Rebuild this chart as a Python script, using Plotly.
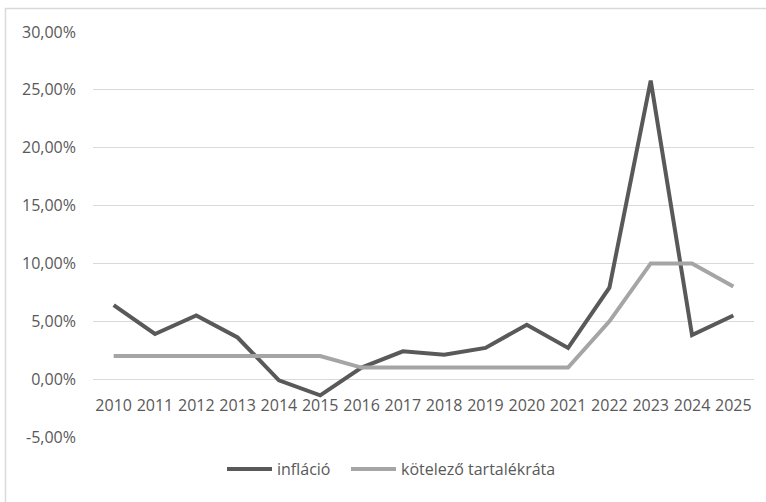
import plotly.graph_objects as go

# Éves adatok (%)
years = [str(y) for y in range(2010, 2026)]
inflacio = [6.4, 3.9, 5.5, 3.6, -0.1, -1.4, 1.0, 2.4, 2.1, 2.7, 4.7, 2.7, 7.9, 25.8, 3.8, 5.5]
tartalekrata = [2.0, 2.0, 2.0, 2.0, 2.0, 2.0, 1.0, 1.0, 1.0, 1.0, 1.0, 1.0, 5.0, 10.0, 10.0, 8.0]

y_ticks = [-5, 0, 5, 10, 15, 20, 25, 30]
y_tick_labels = [f"{v:.2f}%".replace(".", ",") for v in y_ticks]

TEXT = "#595959"
FONT = "Open Sans"
PLOT_W = 661

fig = go.Figure()
fig.add_trace(go.Scatter(
    x=years, y=inflacio, name="infláció", mode="lines",
    line=dict(color="#595959", width=4), legend="legend",
))
fig.add_trace(go.Scatter(
    x=years, y=tartalekrata, name="kötelező tartalékráta", mode="lines",
    line=dict(color="#A5A5A5", width=4), legend="legend2",
))

legend_common = dict(
    orientation="h", xanchor="left", y=-0.079, yanchor="middle",
    font=dict(family=FONT, size=16, color=TEXT), itemwidth=45,
    bgcolor="rgba(0,0,0,0)",
)

fig.update_layout(
    width=766, height=502,
    margin=dict(l=93, r=12, t=32, b=65),
    paper_bgcolor="white", plot_bgcolor="white",
    font=dict(family=FONT, size=16, color=TEXT),
    showlegend=True,
    legend=dict(legend_common, x=(222 - 93) / PLOT_W),
    legend2=dict(legend_common, x=(346 - 93) / PLOT_W),
    xaxis=dict(
        type="category", anchor="free", position=5 / 35,
        range=[-0.5, len(years) - 0.5],
        showgrid=False, showline=False, zeroline=False, ticks="",
        ticklabelstandoff=15,
        tickfont=dict(family=FONT, size=16, color=TEXT),
    ),
    yaxis=dict(
        range=[-5, 30], tickvals=y_ticks, ticktext=y_tick_labels,
        showgrid=True, gridcolor="#D9D9D9", gridwidth=1.3,
        zeroline=False, showline=False, ticks="",
        ticklabelstandoff=16,
        tickfont=dict(family=FONT, size=16, color=TEXT),
    ),
    shapes=[dict(
        type="rect", xref="paper", yref="paper",
        x0=-87.5 / PLOT_W, x1=1.05, y0=-0.3, y1=1 + 23.5 / 405,
        line=dict(color="#D9D9D9", width=1.5), layer="below",
    )],
)

fig.write_html("out.html")
